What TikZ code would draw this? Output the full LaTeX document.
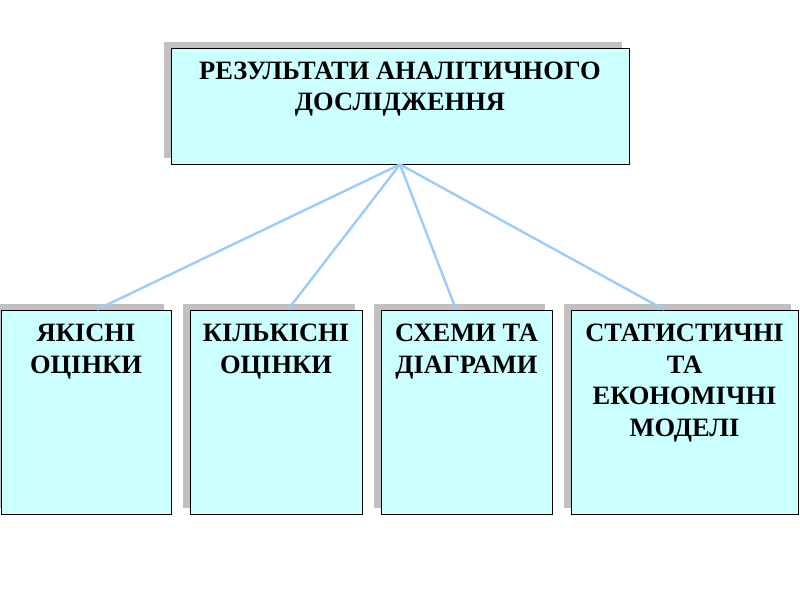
\documentclass[tikz,border=0pt]{standalone}
\usepackage{fontspec}
\setmainfont{Liberation Serif}
\usetikzlibrary{shadows}
\definecolor{boxfill}{HTML}{CCFFFF}
\definecolor{shadowgray}{HTML}{C0C0C0}
\definecolor{linkblue}{HTML}{99CCFF}
\tikzset{
  box/.style={draw=black, line width=0.9pt, fill=boxfill, inner sep=0pt,
    general shadow={fill=shadowgray, shadow xshift=-7pt, shadow yshift=6pt}},
  boxtext/.style={inner sep=0pt, anchor=north, align=center,
    font=\fontsize{26.5}{31.5}\selectfont\bfseries},
  link/.style={draw=linkblue, line width=2.4pt}
}
\begin{document}
\begin{tikzpicture}[x=1pt,y=1pt]
\useasboundingbox (0,0) rectangle (800,600);
\node[box, minimum width=458pt, minimum height=116pt] (top) at (400,494) {};
\node[box, minimum width=170pt, minimum height=204pt] (b1) at (86,188) {};
\node[box, minimum width=172pt, minimum height=204pt] (b2) at (276,188) {};
\node[box, minimum width=171pt, minimum height=204pt] (b3) at (466.5,188) {};
\node[box, minimum width=227pt, minimum height=204pt] (b4) at (684.5,188) {};
\draw[link] (top.south) -- ([xshift=11pt]b1.north);
\draw[link] (top.south) -- ([xshift=12pt]b2.north);
\draw[link] (top.south) -- ([xshift=-10.5pt]b3.north);
\draw[link] (top.south) -- ([xshift=-20.5pt]b4.north);
\node[boxtext] (ttop) at ([yshift=-14pt]top.north) {РЕЗУЛЬТАТИ АНАЛІТИЧНОГО\\ДОСЛІДЖЕННЯ};
\node[boxtext] (t1) at ([yshift=-14.5pt]b1.north) {ЯКІСНІ\\ОЦІНКИ};
\node[boxtext] (t2) at ([yshift=-14.5pt]b2.north) {КІЛЬКІСНІ\\ОЦІНКИ};
\node[boxtext] (t3) at ([yshift=-14.5pt]b3.north) {СХЕМИ ТА\\ДІАГРАМИ};
\node[boxtext] (t4) at ([yshift=-14.5pt]b4.north) {СТАТИСТИЧНІ\\ТА\\ЕКОНОМІЧНІ\\МОДЕЛІ};
\end{tikzpicture}
\end{document}
